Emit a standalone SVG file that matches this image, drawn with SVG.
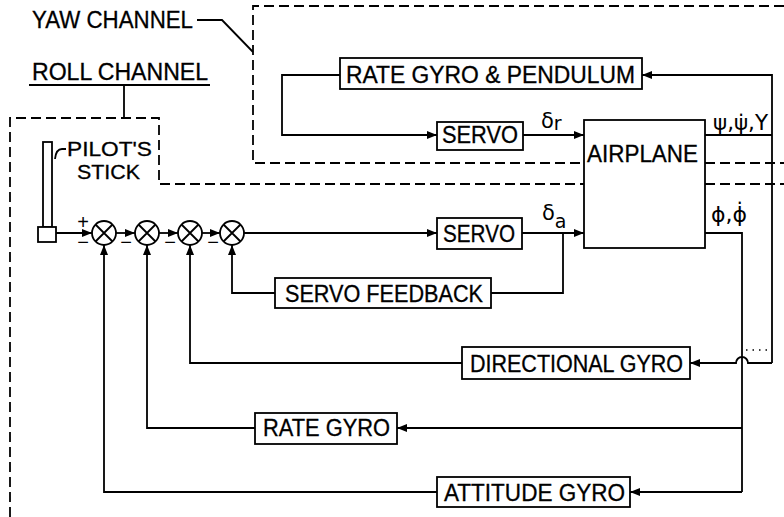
<svg xmlns="http://www.w3.org/2000/svg" width="784" height="517" viewBox="0 0 784 517">
<style>
.ln{fill:none;stroke:#000;stroke-width:1.8}
.ds{fill:none;stroke:#000;stroke-width:1.8;stroke-dasharray:10 5}
.bx{fill:#fff;stroke:#000;stroke-width:1.8}
.t{font-family:"Liberation Sans",Arial,sans-serif;font-size:23px;fill:#000;stroke:#000;stroke-width:0.3}
.t2{font-family:"Liberation Sans",Arial,sans-serif;font-size:20px;fill:#000;stroke:#000;stroke-width:0.3}
.g{font-family:"DejaVu Sans","Liberation Sans",sans-serif;font-size:21px;fill:#000}
.s{font-family:"Liberation Sans",Arial,sans-serif;font-size:20px;fill:#000;text-anchor:middle}
</style>
<defs>
<marker id="ah" viewBox="0 0 10 8" refX="10" refY="4" markerWidth="10" markerHeight="8" markerUnits="userSpaceOnUse" orient="auto">
<path d="M0,0 L10,4 L0,8 z" fill="#000"/>
</marker>
</defs>
<rect width="784" height="517" fill="#fff"/>

<g id="channels">
<path class="ds" d="M784,6 H253 V163 H584 M705,163 H784"/>
<path class="ds" d="M10,517 V118 H159 V184 H584 M705,184 H784"/>
<path class="ln" d="M197,20 H222 L253,52"/>
<path class="ln" d="M29,85 H210 M124,85 V118"/>
<text class="t" x="32" y="28" textLength="161" lengthAdjust="spacingAndGlyphs">YAW CHANNEL</text>
<text class="t" x="32" y="80" textLength="176" lengthAdjust="spacingAndGlyphs">ROLL CHANNEL</text>
</g>

<g id="connectors">
<path class="ln" d="M56,233 H92" marker-end="url(#ah)"/>
<path class="ln" d="M116,233 H135" marker-end="url(#ah)"/>
<path class="ln" d="M159,233 H178" marker-end="url(#ah)"/>
<path class="ln" d="M202,233 H220" marker-end="url(#ah)"/>
<path class="ln" d="M244,233 H437" marker-end="url(#ah)"/>
<path class="ln" d="M522,233 H584" marker-end="url(#ah)"/>
<path class="ln" d="M491,293 H563 V233"/>
<path class="ln" d="M275,293 H232 V245" marker-end="url(#ah)"/>
<path class="ln" d="M705,233 H742 V492"/>
<path class="ln" d="M705,135 H772"/>
<path class="ln" d="M772,363 V75 H642" marker-end="url(#ah)"/>
<path class="ln" d="M772,363 H748 A6,6 0 0 0 736,363 H690" marker-end="url(#ah)"/>
<path d="M746,350 H770" fill="none" stroke="#000" stroke-width="1.5" stroke-dasharray="1.5 5"/>
<path class="ln" d="M462,363 H190 V245" marker-end="url(#ah)"/>
<path class="ln" d="M742,428 H397" marker-end="url(#ah)"/>
<path class="ln" d="M255,428 H147 V245" marker-end="url(#ah)"/>
<path class="ln" d="M742,492 H630" marker-end="url(#ah)"/>
<path class="ln" d="M437,492 H104 V245" marker-end="url(#ah)"/>
<path class="ln" d="M340,75 H282 V135 H437" marker-end="url(#ah)"/>
<path class="ln" d="M523,135 H584" marker-end="url(#ah)"/>
<path class="ln" d="M55,159 Q56,149 62,149 H66"/>
</g>

<g id="stick">
<rect class="bx" x="43" y="142" width="9" height="85"/>
<rect class="bx" x="38" y="227" width="18" height="15"/>
<text class="t2" x="67" y="156" textLength="85" lengthAdjust="spacingAndGlyphs">PILOT'S</text>
<text class="t2" x="77" y="179" textLength="63" lengthAdjust="spacingAndGlyphs">STICK</text>
</g>

<g id="j1"><circle class="bx" cx="104" cy="233" r="12"/><path class="ln" d="M95.5,224.5 L112.5,241.5 M112.5,224.5 L95.5,241.5"/></g>
<g id="j2"><circle class="bx" cx="147" cy="233" r="12"/><path class="ln" d="M138.5,224.5 L155.5,241.5 M155.5,224.5 L138.5,241.5"/></g>
<g id="j3"><circle class="bx" cx="190" cy="233" r="12"/><path class="ln" d="M181.5,224.5 L198.5,241.5 M198.5,224.5 L181.5,241.5"/></g>
<g id="j4"><circle class="bx" cx="232" cy="233" r="12"/><path class="ln" d="M223.5,224.5 L240.5,241.5 M240.5,224.5 L223.5,241.5"/></g>
<g id="signs">
<text class="s" x="83" y="229">+</text>
<text class="s" x="83" y="249">−</text>
<text class="s" x="126" y="249">−</text>
<text class="s" x="170" y="249">−</text>
<text class="s" x="213" y="249">−</text>
</g>

<g id="rgp"><rect class="bx" x="340" y="58" width="302" height="31"/>
<text class="t" x="346" y="83" textLength="289" lengthAdjust="spacingAndGlyphs">RATE GYRO &amp; PENDULUM</text></g>
<g id="servo-yaw"><rect class="bx" x="437" y="122" width="86" height="28"/>
<text class="t" x="442" y="143" textLength="76" lengthAdjust="spacingAndGlyphs">SERVO</text></g>
<g id="airplane"><rect class="bx" x="584" y="120" width="121" height="128"/>
<text class="t" x="587" y="162" textLength="111" lengthAdjust="spacingAndGlyphs">AIRPLANE</text></g>
<g id="servo-roll"><rect class="bx" x="437" y="218" width="85" height="31"/>
<text class="t" x="443" y="242" textLength="72" lengthAdjust="spacingAndGlyphs">SERVO</text></g>
<g id="servo-feedback"><rect class="bx" x="275" y="278" width="216" height="30"/>
<text class="t" x="285" y="302" textLength="198" lengthAdjust="spacingAndGlyphs">SERVO FEEDBACK</text></g>
<g id="directional-gyro"><rect class="bx" x="462" y="347" width="228" height="32"/>
<text class="t" x="470" y="372" textLength="213" lengthAdjust="spacingAndGlyphs">DIRECTIONAL GYRO</text></g>
<g id="rate-gyro"><rect class="bx" x="255" y="413" width="142" height="31"/>
<text class="t" x="263" y="436" textLength="127" lengthAdjust="spacingAndGlyphs">RATE GYRO</text></g>
<g id="attitude-gyro"><rect class="bx" x="437" y="477" width="193" height="30"/>
<text class="t" x="444" y="501" textLength="181" lengthAdjust="spacingAndGlyphs">ATTITUDE GYRO</text></g>

<g id="labels">
<text class="g" x="541" y="128">δ<tspan font-size="19" dy="2">r</tspan></text>
<text class="g" x="542" y="220">δ<tspan font-size="19" dy="8">a</tspan></text>
<text class="g" x="713" y="130" textLength="55" lengthAdjust="spacingAndGlyphs">ψ,ψ̇,Y</text>
<text class="g" x="711" y="222" textLength="36" lengthAdjust="spacingAndGlyphs">ϕ,ϕ̇</text>
</g>
</svg>
